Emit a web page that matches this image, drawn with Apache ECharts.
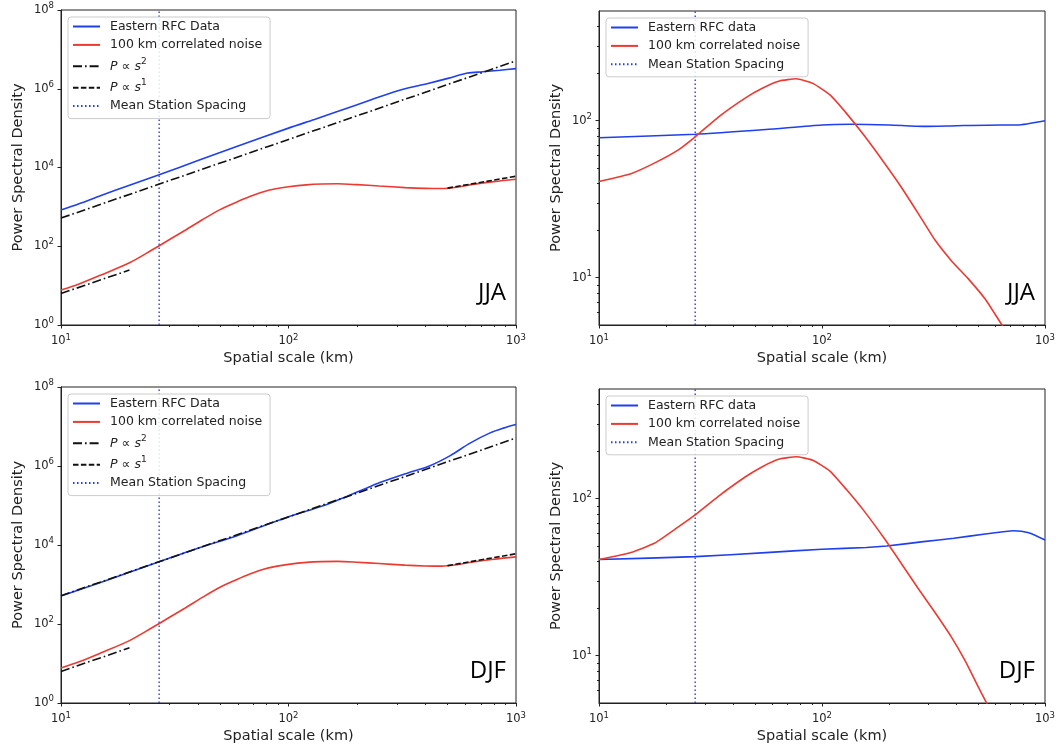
<!DOCTYPE html>
<html>
<head>
<meta charset="utf-8">
<script src="https://cdn.jsdelivr.net/npm/echarts@6/dist/echarts.min.js"></script>
<style>
html,body{margin:0;padding:0;background:#fff;}
#c{width:1059px;height:751px;}
</style>
</head>
<body>
<div id="c"></div>
<script>
// ---------------- data ----------------
const xMajorTicks = [10, 100, 1000];
const xMinorTicks = [20, 30, 40, 50, 60, 70, 80, 90, 200, 300, 400, 500, 600, 700, 800, 900];
const yLeftTicks = [1, 100, 1e4, 1e6, 1e8];
const yRightTicks = [10, 100];
const yRightMinorTicks = [6, 7, 8, 9, 20, 30, 40, 50, 60, 70, 80, 90, 200, 300, 400];

const stationSpacingKm = 27;

// JJA, left panel (spatial scale km, power)
const jjaRfcLeft = [[10,830],[12,1200],[15,1950],[20,3550],[27,6500],[40,15000],[60,35000],[100,100000],[130,166000],[164,263000],[231,525000],[316,955000],[414,1380000],[507,1860000],[612,2500000],[713,2700000],[850,2950000],[1000,3240000]];
// 100 km correlated noise, left panels
const noiseLeft = [[10,7.7],[12,11],[15,18.6],[20,38],[25,79],[30,148],[35,251],[42,479],[50,851],[59,1318],[68,1862],[77,2400],[88,2880],[100,3240],[120,3630],[140,3800],[164,3850],[200,3670],[250,3390],[325,3090],[400,2950],[470,2920],[550,3160],[644,3720],[800,4370],[1000,5010]];
// reference slopes
const slope2Upper = [[10,520],[1000,5100000]];
const slope2Lower = [[10,6.3],[20,25]];
const slope1Line = [[500,3000],[1000,6000]];

// JJA, right panel
const jjaRfcRight = [[10,78],[27,82],[56,88],[100,94],[134,95],[200,94],[285,92],[403,93],[631,94],[750,94],[1000,100]];
const jjaNoiseRight = [[10,41],[13.9,46],[17.7,53.7],[22.6,65],[27,79],[34.4,106],[45.4,140],[54,161],[64.4,179],[76.6,185],[91,173],[108.6,146],[129,111],[154,81],[190,54],[226,38],[269,25.9],[320,17.5],[381,12.8],[454,9.8],[540,7.3],[638,5.06],[750,3.6]];

// DJF, left panel
const djfRfcLeft = [[10,508],[20,2030],[27,3780],[40,8300],[59,17000],[100,52000],[143,100000],[180,170000],[220,275000],[252,380000],[330,650000],[419,1020000],[514,1830000],[628,3800000],[769,6900000],[880,9100000],[1000,11200000]];

// DJF, right panel
const djfRfcRight = [[10,41],[27,42.8],[56,45.4],[100,47.7],[158,48.9],[195,50],[285,53.3],[390,56],[540,59.6],[721,62.6],[845,60.8],[1000,54.6]];
const djfNoiseRight = [[10,41],[13.9,45.5],[17.7,52],[22.6,66],[27,79],[34.4,104],[45.4,138],[54,160],[64.4,179],[76.6,185],[91,176],[108.6,150],[129,114],[154,84],[190,56],[226,39],[269,27],[320,19],[380,13.2],[440,9.2],[500,6.4],[547,5.0],[650,3.0]];

const seasonLabels = ['JJA', 'JJA', 'DJF', 'DJF'];
const leftLegendNames = ['Eastern RFC Data', '100 km correlated noise', 'P ∝ s²', 'P ∝ s¹', 'Mean Station Spacing'];
const rightLegendNames = ['Eastern RFC data', '100 km correlated noise', 'Mean Station Spacing'];

// ---------------- styling ----------------
const FONT = 'DejaVu Sans';
const INK = '#222222';
const BLUE = '#1f3ff0';
const RED = '#ec3a32';

const grids = [
  {left: 61, top: 10, width: 455, height: 315},
  {left: 599, top: 11, width: 446, height: 314},
  {left: 61, top: 387, width: 455, height: 316},
  {left: 599, top: 389, width: 446, height: 314}
];

function powLabel(v) {
  const e = Math.round(Math.log10(v));
  return '{b|10}{s|' + e + '}';
}
const labelRich = {
  b: {fontSize: 11.5, color: INK, fontFamily: FONT},
  s: {fontSize: 8.5, color: INK, fontFamily: FONT, padding: [0, 0, 8, 0]}
};

const xAxes = [], yAxes = [], series = [], legends = [], graphics = [];

grids.forEach((g, i) => {
  const isLeft = i % 2 === 0;
  g.show = true;
  g.borderColor = INK;
  g.borderWidth = 1;
  g.backgroundColor = 'transparent';

  xAxes.push({
    type: 'log', logBase: 10, gridIndex: i, position: 'bottom', min: 10, max: 1000,
    name: 'Spatial scale (km)', nameLocation: 'middle', nameGap: 26,
    nameTextStyle: {fontSize: 14.5, color: INK, fontFamily: FONT},
    axisLine: {show: true, onZero: false, lineStyle: {color: INK, width: 1}},
    axisTick: {show: true, length: 3.5, customValues: xMajorTicks, lineStyle: {color: INK}},
    axisLabel: {show: true, customValues: xMajorTicks, formatter: powLabel, rich: labelRich, margin: 8},
    splitLine: {show: false}, minorTick: {show: false}
  });
  xAxes.push({
    type: 'log', logBase: 10, gridIndex: i, position: 'bottom', min: 10, max: 1000,
    axisLine: {show: false},
    axisTick: {show: true, length: 2, customValues: xMinorTicks, lineStyle: {color: INK}},
    axisLabel: {show: false}, splitLine: {show: false}
  });

  const yMin = isLeft ? 1 : 5, yMax = isLeft ? 1e8 : 500;
  const yTicks = isLeft ? yLeftTicks : yRightTicks;
  yAxes.push({
    type: 'log', logBase: 10, gridIndex: i, position: 'left', min: yMin, max: yMax,
    name: 'Power Spectral Density', nameLocation: 'middle', nameGap: 35,
    nameTextStyle: {fontSize: 14.5, color: INK, fontFamily: FONT},
    axisLine: {show: true, onZero: false, lineStyle: {color: INK, width: 1}},
    axisTick: {show: true, length: 3.5, customValues: yTicks, lineStyle: {color: INK}},
    axisLabel: {show: true, customValues: yTicks, formatter: powLabel, rich: labelRich, margin: 7},
    splitLine: {show: false}, minorTick: {show: false}
  });
  yAxes.push({
    type: 'log', logBase: 10, gridIndex: i, position: 'left', min: yMin, max: yMax,
    axisLine: {show: false},
    axisTick: {show: !isLeft, length: 2, customValues: isLeft ? [] : yRightMinorTicks, lineStyle: {color: INK}},
    axisLabel: {show: false}, splitLine: {show: false}
  });

  const xi = 2 * i, yi = 2 * i;
  const line = (name, data, color, type, width, smooth, z) => ({
    type: 'line', name, data, xAxisIndex: xi, yAxisIndex: yi,
    symbol: 'none', showSymbol: false, smooth: smooth, clip: true, z: z || 2,
    lineStyle: {color, width, type, cap: 'butt'}, itemStyle: {color},
    emphasis: {disabled: true}, animation: false
  });

  const spacingData = [[stationSpacingKm, yMin], [stationSpacingKm, yMax]];
  if (isLeft) {
    const rfc = i === 0 ? jjaRfcLeft : djfRfcLeft;
    series.push(line('Eastern RFC Data', rfc, BLUE, 'solid', 1.6, 0.3, 3));
    series.push(line('100 km correlated noise', noiseLeft, RED, 'solid', 1.6, 0.3, 3));
    series.push(line('P ∝ s²', slope2Upper, '#111', [9, 3, 1.6, 3], 1.6, false, 4));
    series.push(line('P ∝ s²', slope2Lower, '#111', [9, 3, 1.6, 3], 1.6, false, 4));
    series.push(line('P ∝ s¹', slope1Line, '#111', [5.5, 2.4], 1.6, false, 4));
    series.push(line('Mean Station Spacing', spacingData, BLUE, [1.5, 2.5], 1.4, false, 2));
  } else {
    const rfc = i === 1 ? jjaRfcRight : djfRfcRight;
    const noise = i === 1 ? jjaNoiseRight : djfNoiseRight;
    series.push(line('Eastern RFC data', rfc, BLUE, 'solid', 1.6, 0.2, 3));
    series.push(line('100 km correlated noise', noise, RED, 'solid', 1.6, 0.15, 3));
    series.push(line('Mean Station Spacing', spacingData, BLUE, [1.5, 2.5], 1.4, false, 2));
  }

  legends.push({
    data: isLeft ? leftLegendNames : rightLegendNames,
    orient: 'vertical', left: g.left + 7, top: g.top + 7,
    itemWidth: 27, itemHeight: 12, itemGap: 5.4,
    padding: [3, 8, 6, 4],
    backgroundColor: 'rgba(255,255,255,0.85)', borderColor: '#cccccc', borderWidth: 1, borderRadius: 3,
    selectedMode: false,
    itemStyle: {color: 'rgba(0,0,0,0)', borderColor: 'rgba(0,0,0,0)', borderWidth: 0, opacity: 0},
    textStyle: {
      fontSize: 12.5, color: INK, fontFamily: FONT, padding: [0, 0, 0, 5],
      rich: {
        it: {fontSize: 12.5, fontStyle: 'italic', color: INK, fontFamily: FONT},
        op: {fontSize: 12.5, color: INK, fontFamily: FONT},
        sp: {fontSize: 9, color: INK, fontFamily: FONT, padding: [0, 0, 10, 0]}
      }
    },
    formatter: function (name) {
      if (name.indexOf('P ∝') === 0) {
        const e = name.slice(-1) === '²' ? '2' : '1';
        return '{it|P}{op| ∝ }{it|s}{sp|' + e + '}';
      }
      return name;
    }
  });

  graphics.push({
    type: 'text',
    x: g.left + g.width - 10,
    y: g.top + g.height - 32,
    style: {
      text: seasonLabels[i], font: '24px "Open Sans"', fill: '#000',
      textAlign: 'right', align: 'right', textVerticalAlign: 'middle', verticalAlign: 'middle'
    },
    z: 10
  });
});

const chart = echarts.init(document.getElementById('c'), null, {renderer: 'canvas'});
chart.setOption({
  backgroundColor: '#ffffff',
  animation: false,
  grid: grids,
  xAxis: xAxes,
  yAxis: yAxes,
  legend: legends,
  series: series,
  graphic: graphics
});
</script>
</body>
</html>
